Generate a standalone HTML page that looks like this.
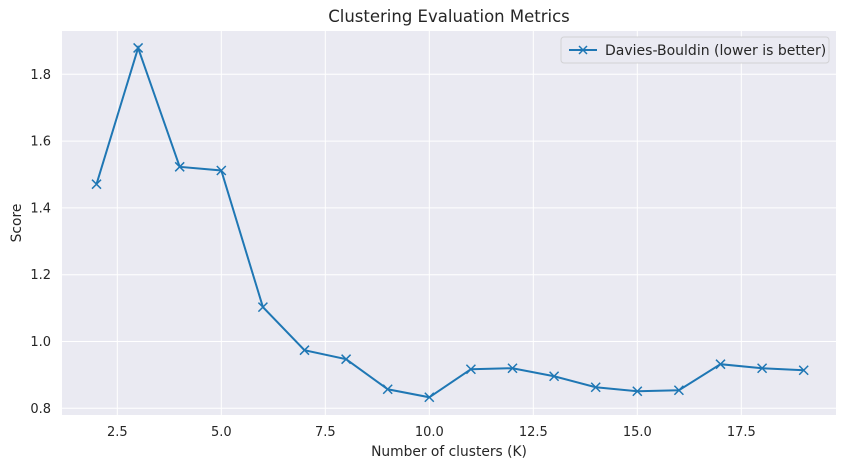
<!DOCTYPE html>
<html><head><meta charset="utf-8"><style>
body{margin:0;background:#fff;font-family:"Liberation Sans","DejaVu Sans",sans-serif;}
</style></head><body>
<svg id="chart" width="846" height="468" xmlns="http://www.w3.org/2000/svg" font-family="DejaVu Sans, Liberation Sans, sans-serif">
<text x="449" y="22" text-anchor="middle" font-size="16.5" fill="#262626">Clustering Evaluation Metrics</text>
<rect x="62" y="31" width="774" height="384" fill="#eaeaf2"/>
<g id="grid"></g>
<g id="marks"></g>
<text x="449" y="456" text-anchor="middle" font-size="13.8" fill="#262626">Number of clusters (K)</text>
<text transform="translate(21,223) rotate(-90)" text-anchor="middle" font-size="13.8" fill="#262626">Score</text>
<g>
<rect x="561" y="37" width="268" height="26" rx="3" fill="#eaeaf2" stroke="#cccccc" stroke-opacity="0.8"/>
<line x1="569" y1="50" x2="597" y2="50" stroke="#1f77b4" stroke-width="2"/>
<path d="M579,46 L587,54 M587,46 L579,54" stroke="#1f77b4" stroke-width="1.5"/>
<text x="605" y="55" font-size="14" fill="#262626">Davies-Bouldin (lower is better)</text>
</g>
</svg>
<script>
const kValues=[2,3,4,5,6,7,8,9,10,11,12,13,14,15,16,17,18,19];
const dbScores=[1.471,1.879,1.523,1.512,1.103,0.974,0.947,0.857,0.833,0.917,0.920,0.896,0.863,0.851,0.854,0.932,0.920,0.914];
const xTicks=[2.5,5.0,7.5,10.0,12.5,15.0,17.5];
const yTicks=[0.8,1.0,1.2,1.4,1.6,1.8];
const NS="http://www.w3.org/2000/svg";
const sx=v=>117.3+(v-2.5)*41.6;
const sy=v=>408.3-(v-0.8)*334;
const grid=document.getElementById('grid'),marks=document.getElementById('marks');
function mk(t,a,p){const e=document.createElementNS(NS,t);for(const k in a)e.setAttribute(k,a[k]);p.appendChild(e);return e;}
xTicks.forEach(t=>{const x=sx(t);
const l=mk('line',{x1:x,x2:x,y1:31,y2:415,stroke:'#fff','stroke-width':1},grid);


const tx=mk('text',{x:x,y:436,'text-anchor':'middle','font-size':13,fill:'#262626'},grid);tx.textContent=t.toFixed(1);

});
yTicks.forEach(t=>{const y=sy(t);
const l=mk('line',{x1:62,x2:836,y1:y,y2:y,stroke:'#fff','stroke-width':1},grid);


const tx=mk('text',{x:51,y:y+4.5,'text-anchor':'end','font-size':13,fill:'#262626'},grid);tx.textContent=t.toFixed(1);

});
const pts=kValues.map((k,i)=>sx(k)+','+sy(dbScores[i])).join(' ');
const pl=mk('polyline',{points:pts,fill:'none',stroke:'#1f77b4','stroke-width':2},marks);


kValues.forEach((k,i)=>{const x=sx(k),y=sy(dbScores[i]);
const m=mk('path',{d:`M${x-4.5},${y-4.5} L${x+4.5},${y+4.5} M${x+4.5},${y-4.5} L${x-4.5},${y+4.5}`,stroke:'#1f77b4','stroke-width':1.5},marks);

});
</script>
</body></html>
